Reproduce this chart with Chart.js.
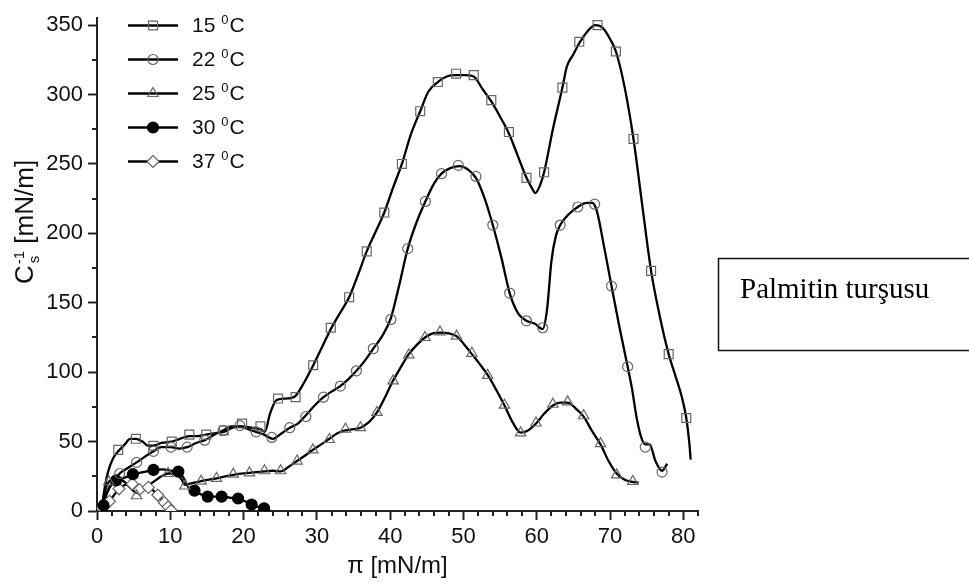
<!DOCTYPE html>
<html><head><meta charset="utf-8">
<script src="https://cdn.jsdelivr.net/npm/chart.js@4.4.1/dist/chart.umd.min.js"></script>
<style>html,body{margin:0;padding:0;background:#fff;}canvas{display:block;}</style>
</head><body>
<canvas id="c" width="969" height="588"></canvas>
<script>
// ---- data ----
const seriesTemps = ['15', '22', '25', '30', '37'];
const xTitle = 'π [mN/m]';
const boxText = 'Palmitin turşusu';
const xMajorTicks = [0, 10, 20, 30, 40, 50, 60, 70, 80];
const yMajorTicks = [0, 50, 100, 150, 200, 250, 300, 350];

// 15 °C markers
const t15x = [2.9,5.3,7.7,10.2,12.6,14.9,17.3,19.8,22.3,24.7,27.1,29.5,31.9,34.4,36.8,39.2,41.6,44.1,46.5,49.0,51.4,53.8,56.2,58.6,61.0,63.5,65.8,68.3,70.8,73.2,75.6,78.0,80.4];
const t15y = [44,52,47,50,55,55,58,63,61,81,82,105,132,154,187,215,250,288,309,315,314,296,273,240,244,305,338,350,331,268,173,113,67];
// 15 °C curve
const t15lx = [0.6,1.0,1.5,2.2,2.9,3.8,4.5,5.3,6.2,7.0,7.7,8.8,10.2,11.3,12.6,13.8,14.9,16.0,17.3,18.5,19.8,21.0,22.3,22.9,23.6,24.5,25.8,27.1,28.2,29.5,30.7,31.9,33.2,34.4,35.6,36.8,38.0,39.2,40.4,41.6,42.8,44.1,45.2,46.5,47.7,49.0,50.2,51.4,52.6,53.8,55.0,56.2,57.4,58.6,59.3,59.8,60.4,61.0,62.2,63.5,64.1,65.0,65.8,67.0,68.0,69.0,70.0,70.8,72.0,73.2,74.4,75.6,76.8,78.0,79.0,79.8,80.4,80.8,81.0];
const t15ly = [0,15,28,38,43,48,52,52,50,47,47,49,50,52,54,54,55,56,57,60,61,60,59,57,70,80,81,83,92,105,118,131,143,154,170,187,201,215,233,250,271,288,302,309,313,314,314,313,304,295,284,272,256,240,233,229,234,244,275,305,320,329,337,346,350,348,340,331,305,268,220,173,140,113,96,82,67,50,37];

// 22 °C markers
const t22x = [3.1,5.4,7.7,10.1,12.3,14.7,17.2,19.5,21.7,23.85,26.3,28.5,30.9,33.2,35.4,37.7,40.1,42.4,44.8,47.0,49.3,51.7,54.0,56.3,58.6,60.8,63.2,65.6,67.9,70.2,72.4,74.8,77.1];
const t22y = [27,35,43,46,46,51,58,61.5,57,53,60,68,82,90,101,117,138,189,223,243,249,241,206,157,137,132,206,219,221,162,104,46,28];
// 22 °C curve
const t22lx = [0.5,1.0,1.8,3.1,4.2,5.4,6.5,7.7,8.8,10.1,11.2,12.3,13.5,14.7,16.0,17.2,18.3,19.5,20.6,21.7,22.8,24.0,25.2,26.3,27.4,28.5,29.7,30.9,32.0,33.2,34.3,35.4,36.5,37.7,38.9,40.1,41.2,42.4,43.6,44.8,46.0,47.0,48.2,49.5,50.6,51.7,52.9,54.0,55.2,56.3,57.5,58.6,59.7,60.8,61.4,62.0,62.6,63.2,64.4,65.6,66.8,67.6,68.2,69.2,70.2,71.3,72.4,73.0,73.6,74.2,74.8,75.4,76.2,77.1,77.8];
const t22ly = [0,8,18,27,31,35,39,43,46,46,45,46,49,51,55,58,61,61,59,57,55,52,56,60,63,69,76,82,86,90,95,101,108,117,126,139,162,189,208,223,236,243,247,248.5,246,240,225,206,182,157,142,137,135,131,145,180,198,206,214,219,222,222,216,190,162,132,104,88,68,54,48,48,36,29,34];

// 25 °C markers
const t25x = [1.6,5.4,9.7,12.0,14.2,16.3,18.6,20.8,22.85,25.05,27.3,29.45,31.7,33.9,35.95,38.2,40.4,42.55,44.75,46.8,49.05,51.15,53.3,55.6,57.8,59.9,62.2,64.2,66.4,68.7,70.9,73.1];
const t25y = [21,11,27,18,21.5,23.5,26.5,27.5,29,29,36,44,51.5,59,60,71,93.7,112.4,125,129,126,113.6,97.7,76.2,56.3,63.4,76.9,78.6,68.6,48.5,26,21.3];
// 25 °C curve
const t25lx = [0.6,1.0,1.6,2.5,3.5,4.5,5.4,6.5,7.7,8.8,9.7,10.8,11.5,12.0,13.0,14.2,15.2,16.3,17.5,18.6,19.7,20.8,21.8,22.85,24.0,25.05,26.2,27.3,28.4,29.45,30.6,31.7,32.8,33.9,35.0,35.95,37.1,38.2,39.3,40.4,41.5,42.55,43.7,44.75,45.8,46.8,48.0,49.05,50.1,51.15,52.2,53.3,54.5,55.6,56.7,57.8,58.8,59.9,61.0,62.2,63.2,64.2,65.3,66.4,67.5,68.7,69.8,70.9,72.0,73.1,73.9];
const t25ly = [0,12,21,23,22,17,13,17,21,25,27,27,23,19,20,21.5,22.5,23.5,25,26,27,27.5,28,28.5,29,28.5,32,36,40,44,48,52,56,58,59,60,64,71,82,94,104,113,120,125,128,128.5,128,126,120,113,106,98,87,76,64,56.5,58,63,70,76,78,78,74,68,58,48,36,27,22.5,21,20.5];

// 30 °C markers
const t30x = [0.9,2.6,4.9,7.7,11.1,13.3,15.1,17.0,19.25,21.1,22.8];
const t30y = [4,22,26.5,29.6,28.4,14.7,10.4,10.4,9,4.7,1.9];
// 30 °C curve
const t30lx = [0.5,1.0,1.6,2.6,3.8,4.9,6.3,7.7,9.0,10.2,11.1,11.8,12.5,13.3,14.2,15.1,16.0,17.0,18.2,19.25,20.2,21.1,22.0,22.8,23.2];
const t30ly = [0,8,16,22,24,26.5,28,29.6,30,29,28.4,24,17,14.7,12,10.4,10.4,10.4,9.5,9,7,4.7,3,1.9,1];

// 37 °C markers
const t37x = [0.7,1.7,3.0,4.8,5.8,7.0,8.3,9.2,9.7,10.1];
const t37y = [2,7,16,19.5,15.5,17,11.5,6,3,0.5];
// 37 °C curve
const t37lx = [0.4,1.0,1.7,2.4,3.0,3.9,4.8,5.3,5.8,6.4,7.0,7.6,8.3,8.8,9.2,9.7,10.1];
const t37ly = [0,3,7,12,16,19,19.5,18,16,16,17,15,11.5,8.5,6,3,0.5];

// ---- build ----
const pts = (xs, ys) => xs.map((x, i) => ({x: x, y: ys[i]}));
const markerGray = '#666';
const styles = [
  {ps: 'rect', r: 6.3, fill: 'rgba(0,0,0,0)', stroke: markerGray},
  {ps: 'circle', r: 5, fill: 'rgba(0,0,0,0)', stroke: markerGray},
  {ps: 'triangle', r: 6, fill: 'rgba(0,0,0,0)', stroke: markerGray},
  {ps: 'circle', r: 5.5, fill: '#000', stroke: '#000'},
  {ps: 'rectRot', r: 6, fill: '#fff', stroke: markerGray}
];
const lines = [[t15lx,t15ly],[t22lx,t22ly],[t25lx,t25ly],[t30lx,t30ly],[t37lx,t37ly]];
const marks = [[t15x,t15y],[t22x,t22y],[t25x,t25y],[t30x,t30y],[t37x,t37y]];

const datasets = [];
seriesTemps.forEach((t, i) => {
  datasets.push({
    label: t + ' °C curve', data: pts(lines[i][0], lines[i][1]),
    borderColor: '#000', borderWidth: 2.3, pointRadius: 0, fill: false,
    cubicInterpolationMode: 'monotone', order: 2
  });
  datasets.push({
    label: t + ' °C', data: pts(marks[i][0], marks[i][1]), showLine: false,
    pointStyle: styles[i].ps, pointRadius: styles[i].r, pointBorderWidth: 1.2,
    pointBackgroundColor: styles[i].fill, pointBorderColor: styles[i].stroke, order: 1
  });
});

const FONT = "'Liberation Sans', Arial, sans-serif";

const decor = {
  id: 'decor',
  afterDraw(chart) {
    const ctx = chart.ctx;
    const xs = chart.scales.x, ys = chart.scales.y;
    const ca = chart.chartArea;
    ctx.save();
    // minor ticks
    ctx.strokeStyle = '#222'; ctx.lineWidth = 2;
    ctx.beginPath();
    for (let v = 2; v <= 82; v += 2) {
      if (v % 10 === 0) continue;
      const px = Math.round(xs.getPixelForValue(v));
      ctx.moveTo(px, ca.bottom); ctx.lineTo(px, ca.bottom + 5);
    }
    for (let v = 25; v <= 350; v += 50) {
      const py = Math.round(ys.getPixelForValue(v));
      ctx.moveTo(ca.left, py); ctx.lineTo(ca.left - 5, py);
    }
    ctx.stroke();

    // legend
    const rowY = [25.5, 59.5, 93.5, 127.5, 161.5];
    seriesTemps.forEach((t, i) => {
      const y = rowY[i];
      ctx.strokeStyle = '#000'; ctx.lineWidth = 2.3;
      ctx.beginPath(); ctx.moveTo(128, y); ctx.lineTo(178, y); ctx.stroke();
      const s = styles[i];
      ctx.fillStyle = s.fill; ctx.strokeStyle = s.stroke; ctx.lineWidth = 1.2;
      Chart.helpers.drawPoint(ctx, {pointStyle: s.ps, radius: s.r, borderWidth: 1.2, rotation: 0}, 153, y);
      ctx.fillStyle = '#111';
      ctx.textBaseline = 'middle'; ctx.textAlign = 'left';
      ctx.font = '21px ' + FONT;
      const a = t + ' ';
      ctx.fillText(a, 192, y + 1);
      let x = 192 + ctx.measureText(a).width;
      ctx.font = '13px ' + FONT;
      ctx.fillText('0', x, y - 5);
      x += ctx.measureText('0').width + 1;
      ctx.font = '21px ' + FONT;
      ctx.fillText('C', x, y + 1);
    });

    // y axis title
    ctx.save();
    ctx.translate(33, 284);
    ctx.rotate(-Math.PI / 2);
    ctx.fillStyle = '#111'; ctx.textBaseline = 'alphabetic'; ctx.textAlign = 'left';
    ctx.font = '26px ' + FONT;
    ctx.fillText('C', 0, 0);
    let w = ctx.measureText('C').width + 1;
    ctx.font = '15px ' + FONT;
    ctx.fillText('-1', w, -9);
    ctx.fillText('s', w + 1, 6);
    w += Math.max(ctx.measureText('-1').width, ctx.measureText('s').width + 1);
    ctx.font = '26px ' + FONT;
    ctx.fillText(' [mN/m]', w, 0);
    ctx.restore();

    // text box
    ctx.strokeStyle = '#111'; ctx.lineWidth = 1.5;
    ctx.strokeRect(718.5, 258.5, 270, 92);
    ctx.fillStyle = '#000';
    ctx.font = "29px 'Liberation Serif', 'Times New Roman', serif";
    ctx.textBaseline = 'alphabetic';
    ctx.fillText(boxText, 740, 298);
    ctx.restore();
  }
};

new Chart(document.getElementById('c'), {
  type: 'line',
  data: {datasets: datasets},
  plugins: [decor],
  options: {
    responsive: false, animation: false, devicePixelRatio: 1,
    layout: {padding: {top: 9, right: 271, left: 0, bottom: 0}},
    plugins: {legend: {display: false}, tooltip: {enabled: false}},
    elements: {line: {tension: 0}},
    scales: {
      x: {
        type: 'linear', min: 0, max: 82,
        ticks: {stepSize: 10, font: {size: 22, family: FONT}, color: '#111', padding: 4, maxRotation: 0},
        afterBuildTicks: (s) => { s.ticks = xMajorTicks.map(v => ({value: v})); },
        afterFit: (s) => { s.height = 77; },
        grid: {drawOnChartArea: false, drawTicks: true, tickLength: 9, tickColor: '#222', tickWidth: 2},
        border: {display: true, color: '#222', width: 2},
        title: {display: true, text: xTitle, font: {size: 24, family: FONT}, color: '#111', padding: {top: 0, bottom: 7}}
      },
      y: {
        type: 'linear', min: 0, max: 355,
        ticks: {stepSize: 50, font: {size: 22, family: FONT}, color: '#111', padding: 5},
        afterBuildTicks: (s) => { s.ticks = yMajorTicks.map(v => ({value: v})); },
        afterFit: (s) => { s.width = 97; },
        grid: {drawOnChartArea: false, drawTicks: true, tickLength: 9, tickColor: '#222', tickWidth: 2},
        border: {display: true, color: '#222', width: 2}
      }
    }
  }
});
</script>
</body></html>
